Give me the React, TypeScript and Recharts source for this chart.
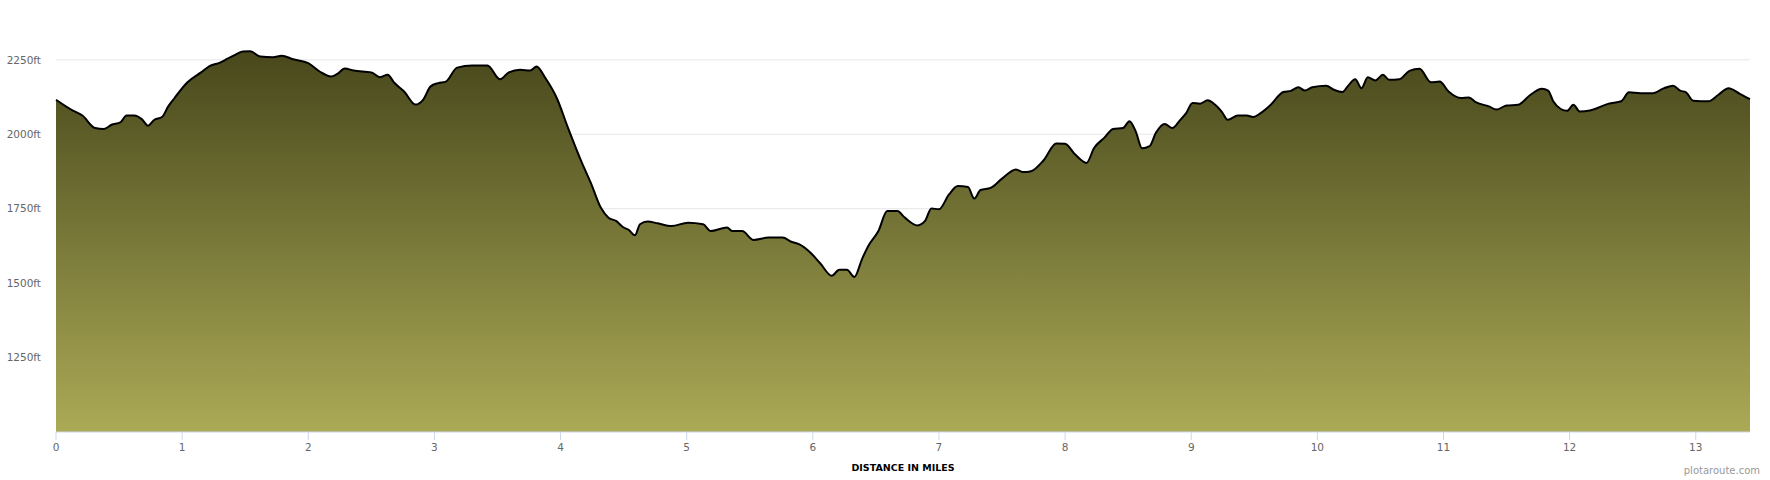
import { Area, AreaChart, CartesianGrid, XAxis, YAxis } from "recharts"

const miles = [
  0, 0.12, 0.21, 0.31, 0.38, 0.44, 0.51, 0.56, 0.62, 0.68, 0.73, 0.78, 0.84, 0.89, 0.94,
  1.04, 1.15, 1.22, 1.3, 1.36, 1.42, 1.48, 1.54, 1.62, 1.72, 1.79, 1.88, 2.0, 2.09, 2.18,
  2.23, 2.29, 2.36, 2.5, 2.57, 2.63, 2.68, 2.76, 2.85, 2.91, 2.97, 3.03, 3.09, 3.18, 3.3,
  3.42, 3.52, 3.59, 3.68, 3.76, 3.81, 3.88, 3.97, 4.06, 4.17, 4.24, 4.32, 4.38, 4.44, 4.5,
  4.54, 4.59, 4.63, 4.69, 4.77, 4.88, 5.01, 5.13, 5.19, 5.32, 5.36, 5.44, 5.53, 5.65, 5.76,
  5.83, 5.89, 5.98, 6.06, 6.15, 6.21, 6.27, 6.33, 6.39, 6.44, 6.52, 6.59, 6.67, 6.73, 6.83,
  6.89, 6.94, 7.0, 7.08, 7.15, 7.23, 7.28, 7.33, 7.41, 7.5, 7.61, 7.67, 7.73, 7.83, 7.93,
  8.0, 8.08, 8.17, 8.23, 8.31, 8.38, 8.46, 8.51, 8.56, 8.61, 8.67, 8.72, 8.79, 8.85, 8.91,
  8.96, 9.01, 9.07, 9.13, 9.19, 9.24, 9.29, 9.37, 9.44, 9.49, 9.55, 9.63, 9.73, 9.79, 9.85,
  9.9, 9.96, 10.07, 10.13, 10.2, 10.24, 10.3, 10.35, 10.4, 10.46, 10.52, 10.57, 10.65, 10.73,
  10.81, 10.9, 10.97, 11.04, 11.14, 11.2, 11.26, 11.36, 11.42, 11.5, 11.59, 11.69, 11.78,
  11.83, 11.87, 11.93, 11.98, 12.03, 12.08, 12.16, 12.31, 12.41, 12.47, 12.56, 12.66, 12.75,
  12.82, 12.88, 12.92, 12.98, 13.1, 13.18, 13.26, 13.35, 13.43,
]

const elevation = [
  2116, 2083, 2063, 2021, 2018, 2032, 2040, 2063, 2063, 2051, 2029, 2049, 2058, 2094, 2122,
  2174, 2208, 2230, 2241, 2254, 2267, 2278, 2279, 2261, 2259, 2264, 2252, 2239, 2211, 2194,
  2203, 2221, 2214, 2208, 2192, 2200, 2174, 2144, 2100, 2116, 2161, 2172, 2177, 2224, 2231,
  2231, 2185, 2208, 2217, 2214, 2228, 2189, 2122, 2021, 1904, 1837, 1753, 1720, 1709, 1687,
  1679, 1661, 1698, 1707, 1701, 1692, 1703, 1698, 1675, 1687, 1675, 1675, 1645, 1653, 1653,
  1639, 1631, 1603, 1566, 1525, 1545, 1545, 1521, 1581, 1625, 1675, 1742, 1742, 1720, 1694,
  1709, 1751, 1748, 1798, 1826, 1823, 1784, 1813, 1820, 1851, 1882, 1873, 1876, 1913, 1969,
  1968, 1932, 1904, 1954, 1988, 2018, 2021, 2044, 2010, 1953, 1960, 2005, 2035, 2021, 2047,
  2071, 2105, 2103, 2114, 2099, 2077, 2049, 2063, 2063, 2058, 2071, 2099, 2142, 2146, 2158,
  2147, 2158, 2163, 2150, 2142, 2161, 2185, 2155, 2192, 2181, 2200, 2183, 2185, 2213,
  2220, 2175, 2177, 2144, 2122, 2124, 2107, 2094, 2083, 2097, 2099, 2133, 2153,
  2147, 2111, 2085, 2079, 2099, 2077, 2080, 2103, 2111, 2141, 2138, 2138, 2155,
  2163, 2146, 2142, 2113, 2111, 2133, 2155, 2136, 2118,
]

const xTicks = [0, 1, 2, 3, 4, 5, 6, 7, 8, 9, 10, 11, 12, 13]
const yTicks = [1250, 1500, 1750, 2000, 2250]

const data = miles.map((m, i) => ({ mile: m, elevation: elevation[i] }))

const font = "'DejaVu Sans', Verdana, sans-serif"

export default function App() {
  return (
    <div style={{ position: "absolute", left: 0, top: 0, width: 1770, height: 480, background: "#fff" }}>
      <AreaChart width={1770} height={480} data={data} margin={{ top: 45, right: 20, bottom: 0, left: 0 }}>
        <defs>
          <linearGradient id="elevFill" gradientUnits="userSpaceOnUse" x1="0" y1="45" x2="0" y2="432">
            <stop offset="0" stopColor="#46461b" />
            <stop offset="1" stopColor="#abaa56" />
          </linearGradient>
        </defs>
        <CartesianGrid vertical={false} horizontalValues={yTicks} stroke="#e6e6e6" />
        <XAxis
          dataKey="mile"
          type="number"
          domain={[0, 13.43]}
          ticks={xTicks}
          height={48}
          stroke="#ccd6eb"
          tickSize={8}
          tickMargin={4}
          tick={{ fill: "#666666", fontSize: 10.5, fontFamily: font }}
          label={{
            value: "DISTANCE IN MILES",
            position: "insideBottom",
            offset: 9,
            fill: "#000",
            fontSize: 9.5,
            fontWeight: "bold",
            fontFamily: font,
          }}
        />
        <YAxis
          type="number"
          domain={[1000, 2300]}
          ticks={yTicks}
          width={56}
          axisLine={false}
          tickLine={false}
          tickMargin={9}
          tick={{ fill: "#666666", fontSize: 10.5, fontFamily: font }}
          tickFormatter={(v) => `${v}ft`}
        />
        <Area
          type="monotone"
          dataKey="elevation"
          stroke="#000"
          strokeWidth={2}
          fill="url(#elevFill)"
          fillOpacity={1}
          dot={false}
          activeDot={false}
          isAnimationActive={false}
        />
      </AreaChart>
      <div
        style={{
          position: "absolute",
          right: 10,
          top: 465,
          fontFamily: font,
          fontSize: 10,
          color: "#999999",
        }}
      >
        plotaroute.com
      </div>
    </div>
  )
}
